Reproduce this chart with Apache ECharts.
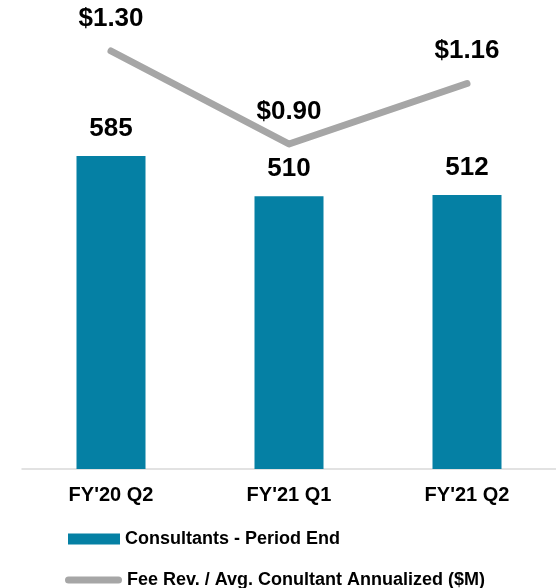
<!DOCTYPE html>
<html>
<head>
<meta charset="utf-8">
<script src="https://cdn.jsdelivr.net/npm/echarts@6/dist/echarts.min.js"></script>
<style>
  html, body { margin: 0; padding: 0; background: #fff; }
  #chart { width: 556px; height: 588px; }
</style>
</head>
<body>
<div id="chart"></div>
<script>
// 数据
const quarters = ["FY'20 Q2", "FY'21 Q1", "FY'21 Q2"];
const consultants = [585, 510, 512];
const feePerConsultant = [1.30, 0.90, 1.16];

const barName = 'Consultants - Period End';
const lineName = 'Fee Rev. / Avg. Conultant Annualized ($M)';

const chart = echarts.init(document.getElementById('chart'));

const font = '"Liberation Sans", Arial, sans-serif';

const option = {
    animation: false,
    textStyle: { fontFamily: font },
    grid: { left: 22, right: 0, top: 41, bottom: 119 },
    legend: [
        {
            data: [barName],
            left: 63, top: 525,
            icon: 'rect',
            itemWidth: 52, itemHeight: 11, itemGap: 0,
            textStyle: { fontFamily: font, fontSize: 18, fontWeight: 'bold', color: '#000' }
        },
        {
            data: [{
                name: lineName,
                icon: 'path://M3.5,0 L53.5,0 A3.5,3.5 0 0 1 53.5,7 L3.5,7 A3.5,3.5 0 0 1 3.5,0 Z'
            }],
            left: 60, top: 566,
            itemWidth: 57, itemHeight: 7, itemGap: 0,
            textStyle: { fontFamily: font, fontSize: 18, fontWeight: 'bold', color: '#000' }
        }
    ],
    xAxis: {
        type: 'category',
        data: quarters,
        axisTick: { show: false },
        axisLine: { lineStyle: { color: '#D9D9D9', width: 1.5 } },
        axisLabel: { margin: 16, fontSize: 20, fontWeight: 'bold', color: '#000', fontFamily: font }
    },
    yAxis: [
        { type: 'value', min: 0, max: 800, show: false, splitLine: { show: false } },
        { type: 'value', min: -0.498, max: 1.343, show: false, splitLine: { show: false } }
    ],
    series: [
        {
            name: barName,
            type: 'bar',
            data: consultants,
            barWidth: 69,
            itemStyle: { color: '#0580A4' },
            label: {
                show: true, position: 'top', distance: 14,
                fontSize: 26, fontWeight: 'bold', color: '#000', fontFamily: font
            }
        },
        {
            name: lineName,
            type: 'line',
            yAxisIndex: 1,
            data: feePerConsultant,
            symbol: 'circle',
            symbolSize: 1,
            itemStyle: { color: '#A6A6A6' },
            lineStyle: { color: '#A6A6A6', width: 7, cap: 'round', join: 'round' },
            label: {
                show: true, position: 'top', distance: 19,
                fontSize: 26, fontWeight: 'bold', color: '#000', fontFamily: font,
                formatter: (p) => '$' + p.value.toFixed(2)
            }
        }
    ]
};

chart.setOption(option);
</script>
</body>
</html>
